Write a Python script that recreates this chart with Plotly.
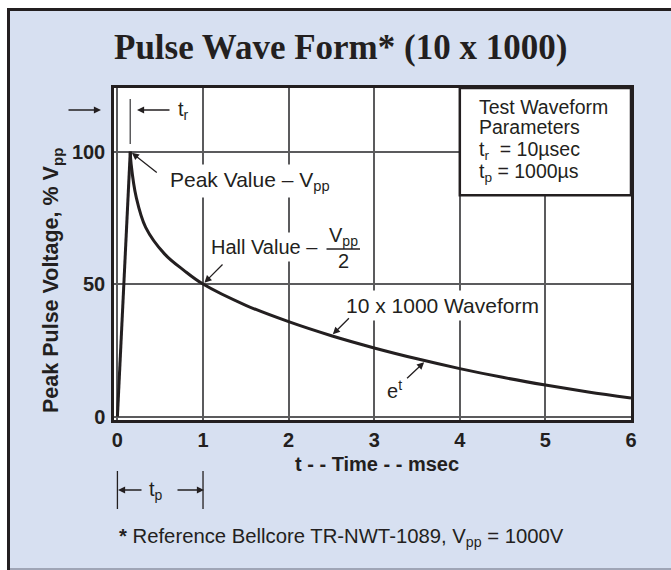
import numpy as np
import plotly.graph_objects as go

# 10 x 1000 surge pulse: % of peak voltage against time in msec
rise_t = [0.0, 0.15]
rise_v = [0.0, 100.0]
decay_t = [0.15, 0.16, 0.22, 0.33, 0.55, 0.78, 1.0, 1.5, 2.0, 2.5,
           3.0, 3.5, 4.0, 4.5, 5.0, 5.5, 6.0]
decay_v = [100.0, 95.3, 82.7, 71.4, 61.4, 55.1, 50.0, 42.0, 35.8, 30.5,
           25.9, 21.8, 18.1, 14.8, 11.9, 9.3, 7.0]

x_ticks = [0, 1, 2, 3, 4, 5, 6]
y_ticks = [0, 50, 100]
half_t, half_v = 1.0, 50.0          # half-value point
box_bottom = 83.5                    # lower edge of the parameter box (% Vpp)

INK = "#231f20"
GRID = "#5b5b5d"
PANEL = "#d7e0f1"
SANS = "Liberation Sans, Arial, sans-serif"

FIG_W, FIG_H = 671, 570
L, R, T, B = 114, 40, 88, 150
PW, PH = FIG_W - L - R, FIG_H - T - B


def px(x):
    return (x - L) / PW


def py(y):
    return (FIG_H - B - y) / PH


fig = go.Figure()
fig.add_trace(go.Scatter(x=rise_t, y=rise_v, mode="lines",
                         line=dict(color=INK, width=3), hoverinfo="skip"))
fig.add_trace(go.Scatter(x=decay_t, y=decay_v, mode="lines",
                         line=dict(color=INK, width=3, shape="spline", smoothing=1.0),
                         hoverinfo="skip"))

peak_t, peak_v = rise_t[-1], rise_v[-1]
wave_t = 2.5
wave_v = float(np.interp(wave_t, decay_t, decay_v))
et_t = 3.6
et_v = float(np.interp(et_t, decay_t, decay_v))

shapes = [
    # white margin strips outside the panel
    dict(type="rect", xref="paper", yref="paper", x0=px(-5), x1=px(FIG_W + 5),
         y0=py(8), y1=py(-5), fillcolor="white", line_width=0, layer="below"),
    dict(type="rect", xref="paper", yref="paper", x0=px(-5), x1=px(7),
         y0=py(FIG_H + 5), y1=py(-5), fillcolor="white", line_width=0, layer="below"),
    # panel edges
    dict(type="line", xref="paper", yref="paper", x0=px(8.5), x1=px(8.5),
         y0=py(8), y1=py(FIG_H), line=dict(color=INK, width=3)),
    dict(type="line", xref="paper", yref="paper", x0=px(7), x1=px(FIG_W),
         y0=py(9.5), y1=py(9.5), line=dict(color=INK, width=3)),
    dict(type="line", xref="paper", yref="paper", x0=px(10), x1=px(FIG_W),
         y0=py(569), y1=py(569), line=dict(color="#9fa5b6", width=2)),
    # test parameter box
    dict(type="rect", xref="x", yref="y", x0=4, x1=6, y0=box_bottom, y1=124,
         fillcolor="white", line=dict(color=INK, width=2.5), layer="above"),
    # rise-time marker at the peak
    dict(type="line", xref="x", yref="paper", x0=peak_t, x1=peak_t,
         y0=py(99), y1=py(144), line=dict(color=GRID, width=1.5)),
    # pulse-width markers below the axis
    dict(type="line", xref="x", yref="paper", x0=0, x1=0,
         y0=py(471), y1=py(509), line=dict(color=INK, width=1.3)),
    dict(type="line", xref="x", yref="paper", x0=half_t, x1=half_t,
         y0=py(471), y1=py(509), line=dict(color=INK, width=1.3)),
    # fraction bar in the half-value label
    dict(type="line", xref="paper", yref="paper", x0=px(326), x1=px(360),
         y0=py(249), y1=py(249), line=dict(color=INK, width=1.3)),
]


def text(s, x, y, size=20, xanchor="left", bold=False, bg=None, family=SANS, **kw):
    if bold:
        s = "<b>" + s + "</b>"
    d = dict(text=s, xref="paper", yref="paper", x=px(x), y=py(y),
             xanchor=xanchor, yanchor="middle", showarrow=False,
             font=dict(family=family, size=size, color=INK))
    if bg:
        d.update(bgcolor=bg, borderpad=3)
    d.update(kw)
    return d


def arrow(x, y, ax, ay, xref="x", yref="y", standoff=2):
    return dict(x=x, y=y, xref=xref, yref=yref, ax=ax, ay=ay, text="",
                showarrow=True, arrowhead=2, arrowsize=1.1, arrowwidth=1.3,
                arrowcolor=INK, standoff=standoff)


annotations = [
    text("Pulse Wave Form* (10 x 1000)", 340, 47, size=35, xanchor="center", bold=True,
         family="Liberation Serif, Times New Roman, serif"),
    text("Peak Pulse Voltage, % V<sub>pp</sub>", 52, 281, size=21.5, xanchor="center",
         bold=True, textangle=-90),
    text("t - - Time - - msec", 377, 464, size=20, xanchor="center", bold=True),
    # parameter box
    text("Test Waveform", 477, 107, size=19.5),
    text("Parameters", 477, 127, size=19.5),
    text("t<sub>r</sub>  = 10\u00b5sec", 477, 150, size=19.5),
    text("t<sub>p</sub> = 1000\u00b5s", 477, 172, size=19.5),
    # curve call-outs
    text("Peak Value \u2013 V<sub>pp</sub>", 166, 181, size=21, bg="white"),
    arrow(peak_t, peak_v, 28, 22),
    text("Hall Value \u2013 ", 207, 247, bg="white"),
    text("V<sub>pp</sub>", 343, 236, xanchor="center"),
    text("2", 343, 261, xanchor="center"),
    arrow(half_t, half_v, 21, -21),
    text("10 x 1000 Waveform", 342, 305, size=21, bg="white"),
    arrow(wave_t, wave_v, 19, -19),
    text("e<sup>t</sup>", 385, 389),
    arrow(et_t, et_v, -20, 19),
    # rise-time markers
    arrow(px(101), py(110), -34, 0, xref="paper", yref="paper", standoff=0),
    arrow(px(137), py(110), 34, 0, xref="paper", yref="paper", standoff=0),
    text("t<sub>r</sub>", 176, 110),
    # pulse-width markers
    arrow(px(118), py(490), 25, 0, xref="paper", yref="paper", standoff=0),
    text("t<sub>p</sub>", 156, 490, xanchor="center"),
    arrow(px(204), py(490), -28, 0, xref="paper", yref="paper", standoff=0),
    # footnote
    text("<b>*</b> Reference Bellcore TR-NWT-1089, V<sub>pp</sub> = 1000V", 117, 537,
         size=20.3),
]

axis_common = dict(showgrid=True, gridcolor=GRID, gridwidth=1.6, zeroline=False,
                   showline=True, linecolor=INK, linewidth=2.5, mirror=True,
                   tickfont=dict(family=SANS, size=20, color=INK, weight="bold"))

fig.update_layout(
    width=FIG_W, height=FIG_H, autosize=False,
    margin=dict(l=L, r=R, t=T, b=B, pad=0),
    paper_bgcolor=PANEL, plot_bgcolor="white",
    showlegend=False,
    xaxis=dict(range=[-0.04, 6.0], tickvals=x_ticks, ticks="", **axis_common),
    yaxis=dict(range=[-1.3, 124], tickvals=y_ticks, ticks="outside", ticklen=2,
               tickcolor="rgba(0,0,0,0)", **axis_common),
    shapes=shapes,
    annotations=annotations,
)

fig.write_html("out.html")
